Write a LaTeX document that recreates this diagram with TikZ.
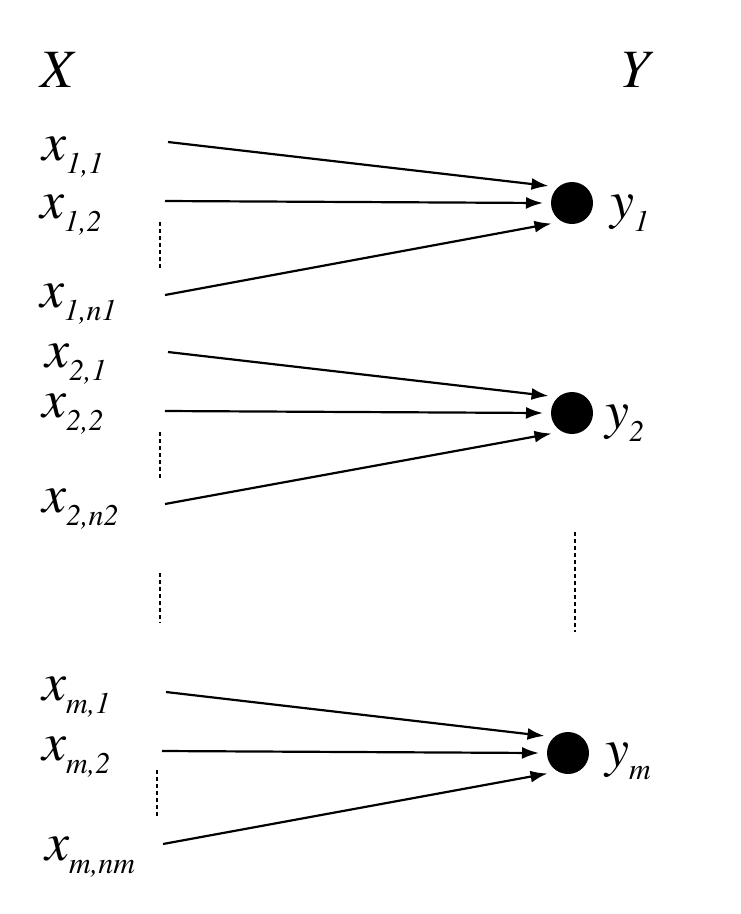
\documentclass[tikz,border=0pt]{standalone}
\usepackage[T1]{fontenc}
\usepackage{mathptmx}
\usetikzlibrary{arrows.meta, positioning}
\newcommand{\subl}[2]{#1\raisebox{-13pt}{\fontsize{30pt}{30pt}\selectfont #2}}

\begin{document}
\begin{tikzpicture}[x=1pt, y=-1pt,
    lab/.style={anchor=base west, inner sep=0pt, font=\rmfamily\fontsize{54pt}{54pt}\selectfont\itshape},
    dot/.style={circle, fill=black, inner sep=0pt, minimum size=42pt, outer sep=8pt},
    link/.style={line width=2.2pt, -{Latex[length=17pt,width=12pt]}},
    gap/.style={line width=1.4pt, dash pattern=on 4pt off 3pt}]
    \useasboundingbox (0,0) rectangle (740,914);

    % Draw headings
    \node[lab] (X) at (40,87) {X};
    \node[lab] (Y) at (619,87) {Y};

    % Draw input labels
    \node[lab] (x11) at (42,160) {\subl{x}{1,1}};
    \node[lab] (x12) at (40,218) {\subl{x}{1,2}};
    \node[lab] (x1n) at (40,307) {\subl{x}{1,n1}};
    \node[lab] (x21) at (45,367) {\subl{x}{2,1}};
    \node[lab] (x22) at (42,417) {\subl{x}{2,2}};
    \node[lab] (x2n) at (42,512) {\subl{x}{2,n2}};
    \node[lab] (xm1) at (42,700) {\subl{x}{m,1}};
    \node[lab] (xm2) at (42,760) {\subl{x}{m,2}};
    \node[lab] (xmn) at (45,860) {\subl{x}{m,nm}};

    % Draw output dots and labels
    \node[dot] (y1) at (572,203) {};
    \node[dot] (y2) at (572,413) {};
    \node[dot] (ym) at (568,753) {};
    \node[lab] (ly1) at (610,218) {\subl{y}{1}};
    \node[lab] (ly2) at (605,428) {\subl{y}{2}};
    \node[lab] (lym) at (605,766) {\subl{y}{m}};

    % Start points of the arrows
    \coordinate (s11) at (168,142);
    \coordinate (s12) at (165,201);
    \coordinate (s1n) at (165,295);
    \coordinate (s21) at (168,352);
    \coordinate (s22) at (165,411);
    \coordinate (s2n) at (165,504);
    \coordinate (sm1) at (166,692);
    \coordinate (sm2) at (162,751);
    \coordinate (smn) at (163,844);

    % Draw arrows
    \draw[link] (s11) -- (y1.144);
    \draw[link] (s12) -- (y1.180);
    \draw[link] (s1n) -- (y1.225);
    \draw[link] (s21) -- (y2.144);
    \draw[link] (s22) -- (y2.180);
    \draw[link] (s2n) -- (y2.225);
    \draw[link] (sm1) -- (ym.144);
    \draw[link] (sm2) -- (ym.180);
    \draw[link] (smn) -- (ym.225);

    % Draw dotted gaps
    \coordinate (g1a) at (160,222);
    \coordinate (g1b) at (160,270);
    \coordinate (g2a) at (160,432);
    \coordinate (g2b) at (160,478);
    \coordinate (g3a) at (160,573);
    \coordinate (g3b) at (160,623);
    \coordinate (g4a) at (575,532);
    \coordinate (g4b) at (575,632);
    \coordinate (g5a) at (157,770);
    \coordinate (g5b) at (157,818);
    \draw[gap] (g1a) -- (g1b);
    \draw[gap] (g2a) -- (g2b);
    \draw[gap] (g3a) -- (g3b);
    \draw[gap] (g4a) -- (g4b);
    \draw[gap] (g5a) -- (g5b);
\end{tikzpicture}
\end{document}
